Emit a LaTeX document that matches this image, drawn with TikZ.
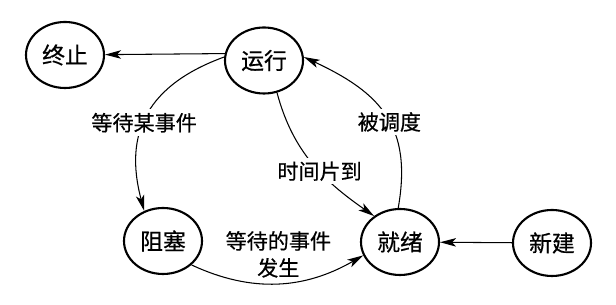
\documentclass[tikz,border=0pt]{standalone}
\usepackage{fontspec}
\newfontfamily\cjk[FakeBold=0.6]{Noto Sans CJK SC}
\usetikzlibrary{arrows.meta,shapes.geometric}
\tikzset{
    process/.style={
        state/.style={ellipse, draw, very thick, minimum width=1.56cm, minimum height=1.32cm,
            inner sep=0pt, font=\cjk\fontsize{13}{15}\selectfont},
        lbl/.style={fill=white, inner sep=2pt, font=\cjk\fontsize{12}{15.3}\selectfont},
        every path/.style={-{Stealth[length=3.2mm, width=1.7mm, inset=0.8mm]}, semithick},
    },
}

\begin{document}
\begin{tikzpicture}[process]
            \useasboundingbox (0,0) rectangle (12.32,6.10);
            \node[state] (exit)    at (1.30,5.00)  {终止};
            \node[state] (running) at (5.28,4.89)  {运行};
            \node[state] (blocked) at (3.26,1.28)  {阻塞};
            \node[state] (ready)   at (8.00,1.26)  {就绪};
            \node[state] (new)     at (11.04,1.24) {新建};

            \draw (running.170) -- (exit);
            \draw (running.175) to[out=200, in=105, looseness=1.2]
                node[lbl, pos=0.55] {等待某事件} (blocked.122);
            \draw (running.-68) to[out=-75, in=145]
                node[lbl, pos=0.57] {时间片到} (ready.135);
            \draw (ready.93) to[out=80, in=-25, looseness=1.2]
                node[lbl, pos=0.45] {被调度} (running.5);
            \draw (blocked.-40) to[out=-25, in=210]
                node[lbl, fill=none, above, align=center, inner sep=3pt] {等待的事件\\发生} (ready.200);
            \draw (new) -- (ready);
        \end{tikzpicture}
\end{document}
